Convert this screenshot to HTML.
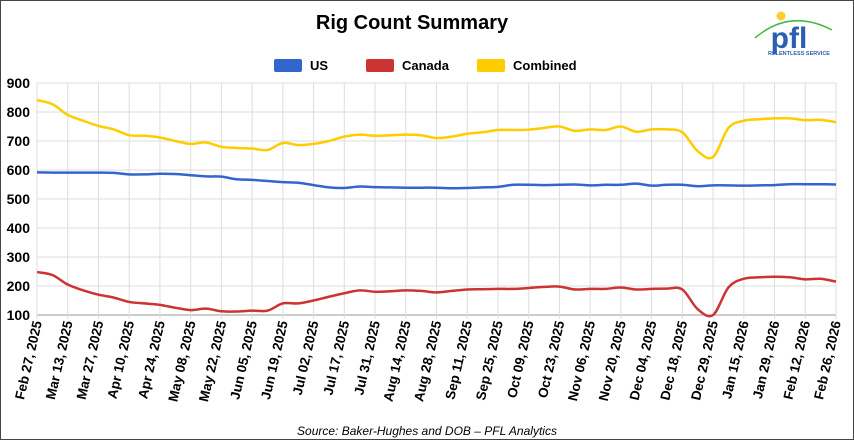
<!DOCTYPE html>
<html><head><style>
body{margin:0;background:#fff;}
svg{display:block;font-family:"Liberation Sans",sans-serif;}
</style></head><body>
<svg id="s" width="854" height="440" xmlns="http://www.w3.org/2000/svg">
<rect x="0.5" y="0.5" width="853" height="439" fill="#fff" stroke="#444"/>
<text x="412" y="29" text-anchor="middle" font-size="20" font-weight="bold">Rig Count Summary</text>
<rect x="274" y="59" width="28" height="13" rx="2" fill="#3366cc"/>
<text x="310" y="70" font-size="13" font-weight="bold">US</text>
<rect x="366" y="59" width="28" height="13" rx="2" fill="#cc3333"/>
<text x="402" y="70" font-size="13" font-weight="bold">Canada</text>
<rect x="477" y="59" width="28" height="13" rx="2" fill="#ffcc00"/>
<text x="513" y="70" font-size="13" font-weight="bold">Combined</text>
<g id="grid"></g>
<g id="lines"></g>
<text x="427" y="435" text-anchor="middle" font-size="12" font-style="italic">Source: Baker-Hughes and DOB – PFL Analytics</text>
<path d="M755 38 Q790 8 832 30" stroke="#44bb44" stroke-width="1.5" fill="none"/>
<circle cx="781" cy="16" r="4.5" fill="#ffcc33"/>
<text x="789" y="48" text-anchor="middle" font-size="30" font-weight="bold" fill="#2b5fb0">pfl</text>
<text x="799" y="55" text-anchor="middle" font-size="5.5" font-weight="bold" fill="#2b5fb0">RELENTLESS SERVICE</text>
</svg>
<script>
const X0=37,X1=836,Y0=315,YS=0.29;
const g=document.getElementById('grid');let h='';
for(let v=100;v<=900;v+=100){const y=Y0-(v-100)*YS;
h+=`<line x1="${X0}" x2="${X1}" y1="${y}" y2="${y}" stroke="${v==100?'#999':'#ddd'}"/>`;
h+=`<text x="30" y="${y+5}" text-anchor="end" font-size="14" font-weight="bold">${v}</text>`;}
const labs=["Feb 27, 2025","Mar 13, 2025","Mar 27, 2025","Apr 10, 2025","Apr 24, 2025","May 08, 2025","May 22, 2025","Jun 05, 2025","Jun 19, 2025","Jul 02, 2025","Jul 17, 2025","Jul 31, 2025","Aug 14, 2025","Aug 28, 2025","Sep 11, 2025","Sep 25, 2025","Oct 09, 2025","Oct 23, 2025","Nov 06, 2025","Nov 20, 2025","Dec 04, 2025","Dec 18, 2025","Dec 29, 2025","Jan 15, 2026","Jan 29, 2026","Feb 12, 2026","Feb 26, 2026"];
labs.forEach((l,i)=>{const x=X0+i*(X1-X0)/26;
h+=`<line x1="${x}" x2="${x}" y1="83" y2="319" stroke="#ddd"/>`;
h+=`<text transform="translate(${x+5},322) rotate(-77)" text-anchor="end" font-size="13.5" font-weight="bold">${l}</text>`;});
g.innerHTML=h;
const comb=[841,827,790,770,752,740,720,718,712,700,690,695,680,676,674,669,693,686,690,700,715,722,718,720,722,720,710,715,725,730,738,738,739,745,750,735,740,738,750,732,740,740,730,665,645,745,770,775,778,778,772,773,765];
const us=[592,591,591,591,591,590,585,585,587,586,582,578,577,568,566,562,558,556,548,540,538,543,541,540,539,539,539,537,538,540,542,549,549,548,549,550,547,549,549,553,546,549,549,544,547,547,546,547,548,551,551,551,550];
const ca=[248,238,205,185,170,160,145,140,135,125,117,122,113,112,115,115,140,140,150,163,175,185,180,182,185,183,178,183,188,189,190,190,193,197,198,188,190,190,195,188,190,191,188,120,100,195,225,230,232,230,223,225,215];
function path(d){const n=d.length;const p=d.map((v,i)=>[X0+i*(X1-X0)/(n-1),Y0-(v-100)*YS]);
let s=`M${p[0][0]} ${p[0][1]}`;
for(let i=0;i<n-1;i++){const a=p[Math.max(0,i-1)],b=p[i],c=p[i+1],e=p[Math.min(n-1,i+2)];
const c1=[b[0]+(c[0]-a[0])/6,b[1]+(c[1]-a[1])/6],c2=[c[0]-(e[0]-b[0])/6,c[1]-(e[1]-b[1])/6];
s+=`C${c1[0]} ${c1[1]} ${c2[0]} ${c2[1]} ${c[0]} ${c[1]}`;}return s;}
document.getElementById('lines').innerHTML=
`<path d="${path(comb)}" stroke="#ffcc00" stroke-width="2.5" fill="none"/>`+
`<path d="${path(us)}" stroke="#3366cc" stroke-width="2.5" fill="none"/>`+
`<path d="${path(ca)}" stroke="#cc3333" stroke-width="2.5" fill="none"/>`;
</script>
</body></html>
